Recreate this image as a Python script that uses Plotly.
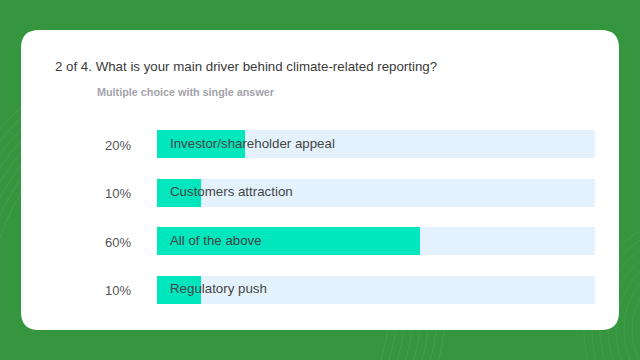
import plotly.graph_objects as go

categories = ["Investor/shareholder appeal", "Customers attraction", "All of the above", "Regulatory push"]
percents = [20, 10, 60, 10]
title_text = "2 of 4. What is your main driver behind climate-related reporting?"
subtitle_text = "Multiple choice with single answer"

GREEN = "#35963f"
TEAL = "#00e6bd"
TRACK = "#e3f2fc"
FONT = "Liberation Sans, Arial, sans-serif"

fig = go.Figure()
fig.add_trace(go.Bar(
    y=categories, x=[100] * len(categories), orientation="h",
    marker=dict(color=TRACK, line=dict(width=0)), width=0.58,
    hoverinfo="skip", showlegend=False,
))
fig.add_trace(go.Bar(
    y=categories, x=percents, orientation="h",
    marker=dict(color=TEAL, line=dict(width=0)), width=0.58,
    showlegend=False,
))

annotations = []
for c, p in zip(categories, percents):
    annotations.append(dict(x=0, y=c, xref="x", yref="y", text=c, showarrow=False,
                            xanchor="left", xshift=11, yshift=1,
                            font=dict(family=FONT, size=13.3, color="#454545")))
    annotations.append(dict(x=0, y=c, xref="x", yref="y", text=f"{p}%", showarrow=False,
                            xanchor="right", xshift=-24, yshift=-1,
                            font=dict(family=FONT, size=13, color="#555555")))

annotations.append(dict(x=53, y=66, xref="paper", yref="paper", text=title_text, showarrow=False,
                        xanchor="left", yanchor="middle",
                        font=dict(family=FONT, size=13.3, color="#3a3a3a")))
annotations.append(dict(x=95, y=92, xref="paper", yref="paper", text=f"<b>{subtitle_text}</b>",
                        showarrow=False, xanchor="left", yanchor="middle",
                        font=dict(family=FONT, size=10.8, color="#a3a3ab")))

W, H = 640, 360
ml, mr, mt, mb = 157, 45, 120, 46
pw, ph = W - ml - mr, H - mt - mb
for a in annotations:
    if a["xref"] == "paper":
        a["x"] = (a["x"] - ml) / pw
        a["y"] = 1 - (a["y"] - mt) / ph

def px(x):
    return (x - ml) / pw

def py(y):
    return 1 - (y - mt) / ph

# rounded card
x0, x1, y0, y1, r = 21, 619, 30, 330, 18
path = (f"M {px(x0 + r)} {py(y0)} L {px(x1 - r)} {py(y0)} "
        f"Q {px(x1)} {py(y0)} {px(x1)} {py(y0 + r)} "
        f"L {px(x1)} {py(y1 - r)} Q {px(x1)} {py(y1)} {px(x1 - r)} {py(y1)} "
        f"L {px(x0 + r)} {py(y1)} Q {px(x0)} {py(y1)} {px(x0)} {py(y1 - r)} "
        f"L {px(x0)} {py(y0 + r)} Q {px(x0)} {py(y0)} {px(x0 + r)} {py(y0)} Z")
shapes = []
for i in range(8):
    rr = 200 + i * 8
    cx, cy = 190, 300
    shapes.append(dict(type="circle", xref="paper", yref="paper",
                       x0=px(cx - rr), x1=px(cx + rr), y0=py(cy + rr), y1=py(cy - rr),
                       line=dict(color="rgba(255,255,255,0.08)", width=1), layer="below"))
for i in range(8):
    rr = 60 + i * 8
    cx, cy = 700, 330
    shapes.append(dict(type="circle", xref="paper", yref="paper",
                       x0=px(cx - rr), x1=px(cx + rr), y0=py(cy + rr), y1=py(cy - rr),
                       line=dict(color="rgba(255,255,255,0.06)", width=1), layer="below"))
shapes.append(dict(type="path", path=path, xref="paper", yref="paper",
                   fillcolor="white", line=dict(width=0), layer="below"))

fig.update_layout(
    width=W, height=H,
    margin=dict(l=ml, r=mr, t=mt, b=mb),
    paper_bgcolor=GREEN, plot_bgcolor="rgba(0,0,0,0)",
    barmode="overlay", bargap=0,
    xaxis=dict(range=[0, 100], visible=False, fixedrange=True),
    yaxis=dict(categoryorder="array", categoryarray=categories, autorange=False,
               range=[3.5, -0.5], visible=False, fixedrange=True),
    shapes=shapes, annotations=annotations,
    font=dict(family=FONT),
)

fig.write_html("out.html", config={"displayModeBar": False})
